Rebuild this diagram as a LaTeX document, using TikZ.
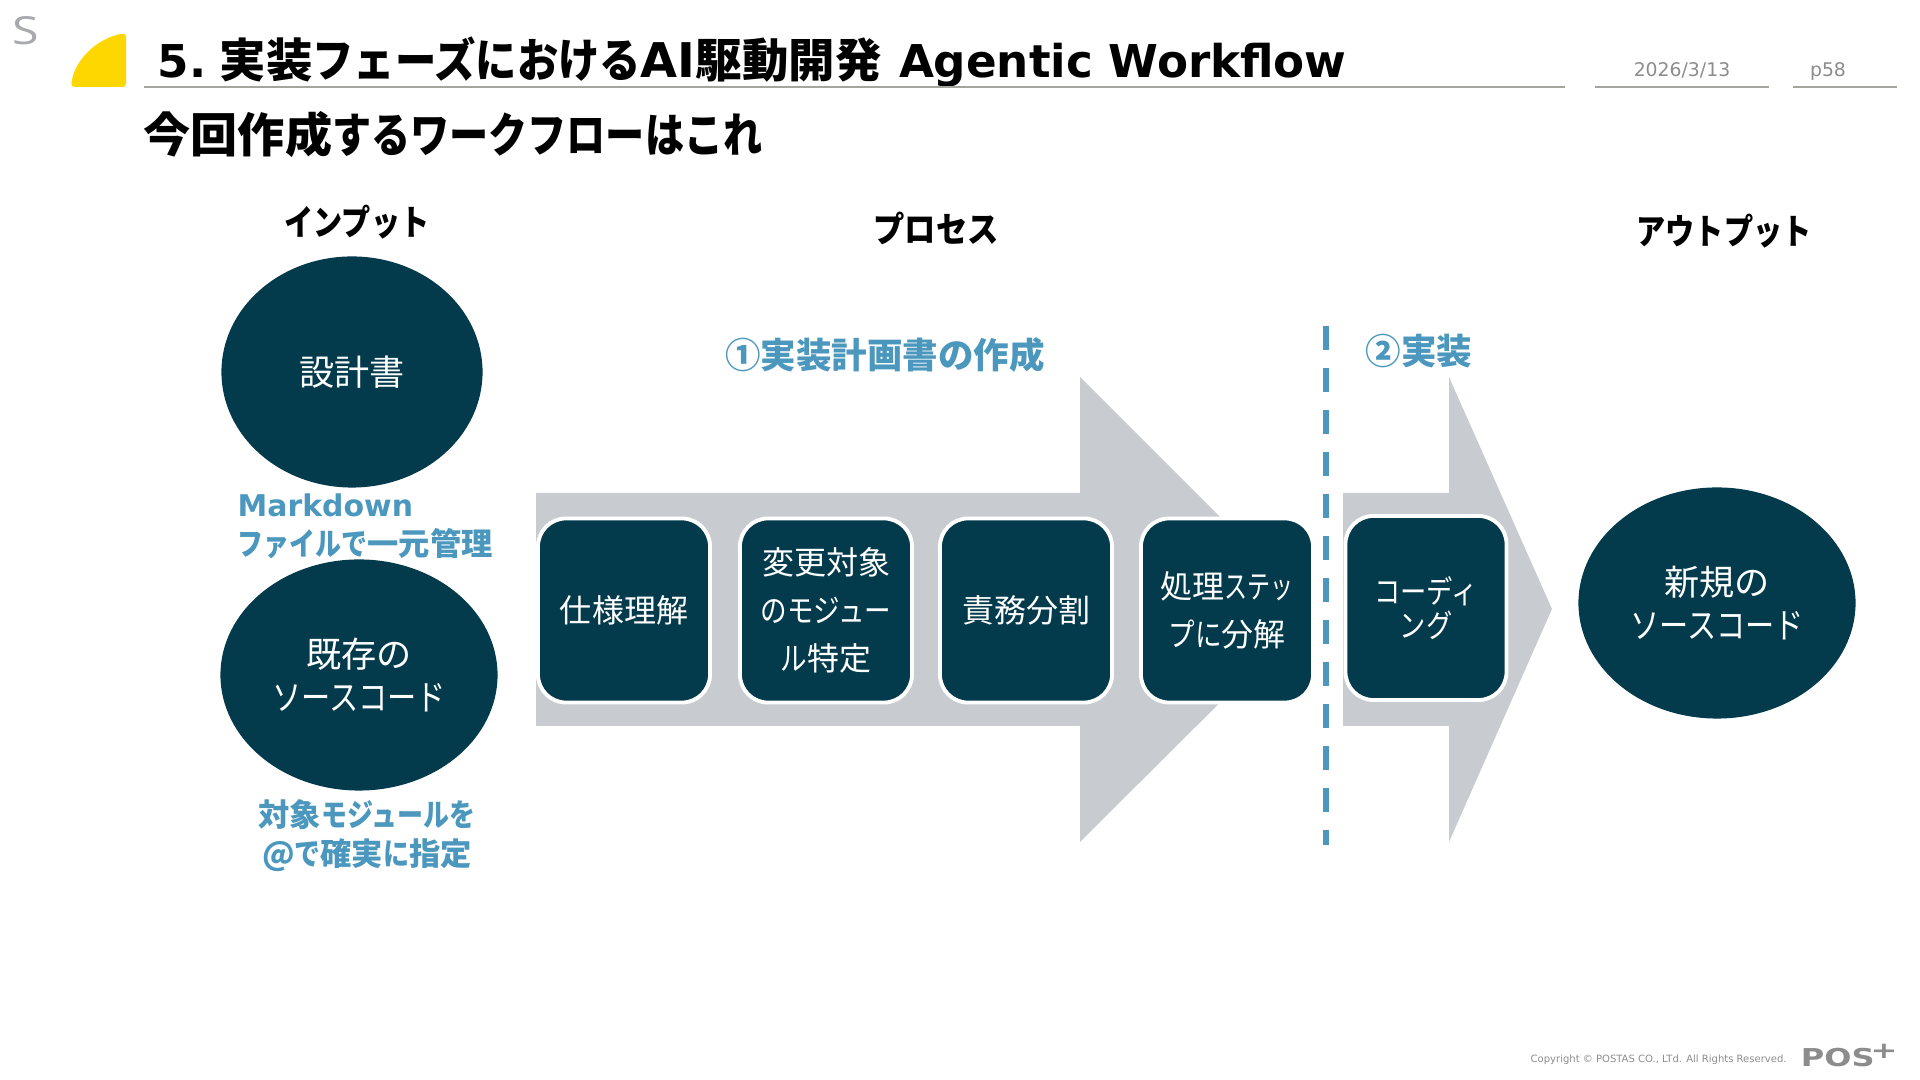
\documentclass[tikz,border=0pt]{standalone}
\usepackage{fontspec}
\usepackage{xcolor}
\usetikzlibrary{shapes.geometric}
\setmainfont{DejaVu Sans}
\newfontfamily\jp{Noto Sans CJK JP}
\newfontfamily\kn[FakeStretch=0.83]{Noto Sans CJK JP}
\newfontfamily\knn[FakeStretch=0.72]{Noto Sans CJK JP}
\newfontfamily\knw[FakeStretch=0.89]{Noto Sans CJK JP}
\newfontfamily\lat{DejaVu Sans}
\newfontfamily\opn{Open Sans}
\definecolor{teal}{HTML}{033B4C}
\definecolor{band}{HTML}{C8CCD0}
\definecolor{accent}{HTML}{4B97BD}
\definecolor{rulegray}{HTML}{A5A5A0}
\definecolor{softgray}{HTML}{8C8C8C}
\definecolor{markgray}{HTML}{A7A9AC}
\definecolor{sungold}{HTML}{FFD700}

\begin{document}
\begin{tikzpicture}[x=0.01cm,y=-0.01cm,
  oval/.style={ellipse, fill=teal, text=white, minimum width=2.77cm, minimum height=2.31cm, inner sep=0pt, align=center, font=\jp\fontsize{10}{12.2}\selectfont},
  stepbox/.style={draw=white, line width=1.1pt, fill=teal, text=white, rounded corners=8pt, minimum width=1.72cm, minimum height=1.84cm, inner sep=0pt, align=center, font=\jp\fontsize{9.1}{13.6}\selectfont},
  head/.style={font=\kn\bfseries\fontsize{10}{12}\selectfont, inner sep=0pt},
  note/.style={text=accent, inner sep=0pt, align=left, font=\jp\bfseries\fontsize{8.9}{11}\selectfont},
  phase/.style={text=accent, inner sep=0pt, font=\jp\bfseries\fontsize{10.1}{12}\selectfont},
  hline/.style={draw=rulegray, line width=0.45pt}
]
\useasboundingbox (0,0) rectangle (1920,1080);

% Arrows behind the boxes
\fill[band] (536,493) -- (1080,493) -- (1080,377) -- (1313,610) -- (1080,842) -- (1080,726) -- (536,726) -- cycle;
\fill[band] (1343,493) -- (1449,493) -- (1449,377) -- (1552,609) -- (1449,842) -- (1449,726) -- (1343,726) -- cycle;

% Header
\node[text=markgray, inner sep=0pt, xscale=1.25, font=\opn\fontsize{11}{12}\selectfont] (mark) at (26,31) {S};
\fill[sungold, rounded corners=1pt] (71,87) .. controls (74,60) and (97,38) .. (126,33) -- (126,87) -- cycle;
\node[anchor=west, inner sep=0pt, font=\jp\bfseries\fontsize{13.2}{15}\selectfont] (title) at (157,62)
  {{\lat\fontsize{12.85}{15}\selectfont 5.}\hspace{3.8pt}実装{\knw フェーズにおける}{\lat\fontsize{13.6}{15}\selectfont AI}駆動開発\hspace{5pt}{\lat\fontsize{12.85}{15}\selectfont Agentic Workflow}};
\node[anchor=west, inner sep=0pt, font=\jp\bfseries\fontsize{13.4}{15}\selectfont] (subtitle) at (143,135) {今回作成{\kn するワークフローはこれ}};
\draw[hline] (144,87) -- (1565,87);
\draw[hline] (1595,87) -- (1769,87);
\draw[hline] (1793,87) -- (1897,87);
\node[text=softgray, inner sep=0pt, font=\lat\fontsize{5.35}{7}\selectfont] (date) at (1682,70) {2026/3/13};
\node[text=softgray, inner sep=0pt, font=\lat\fontsize{5.35}{7}\selectfont] (page) at (1828,71) {p58};

% Column heads
\node[head] (input) at (357,222) {インプット};
\node[head, font=\knw\bfseries\fontsize{10}{12}\selectfont] (process) at (936,228) {プロセス};
\node[head] (output) at (1724,231) {アウトプット};

% Inputs
\node[oval, minimum width=2.61cm] (spec) at (352,372) {設計書};
\node[oval] (legacy) at (359,675) {既存の\\{\kn ソースコード}};
\node[note, anchor=west] (mdnote) at (237,526.5) {{\lat\bfseries\fontsize{8.5}{11}\selectfont Markdown}\\{\kn ファイルで}一元管理};
\node[note, align=center] (atnote) at (367,835.5) {対象{\kn モジュールを}\\@{\kn で}確実{\kn に}指定};

% Phases
\node[phase] (planlabel) at (885,355) {①実装計画書の作成};
\node[phase] (codelabel) at (1419,351) {②実装};
\draw[accent, line width=1.7pt, dash pattern=on 0.24cm off 0.18cm] (1326,326) -- (1326,845);

% Steps
\node[stepbox] (understand) at (624,610.5) {仕様理解};
\node[stepbox] (locate) at (826,610.5) {変更対象\\{\kn のモジュー}\\{\kn ル}特定};
\node[stepbox] (divide) at (1026,610.5) {責務分割};
\node[stepbox] (split) at (1227,610.5) {処理{\knn ステッ}\\{\kn プに}分解};
\node[stepbox, minimum width=1.61cm, font=\kn\fontsize{9}{9.6}\selectfont] (coding) at (1426,608) {コーディ\\ング};

% Output
\node[oval] (newcode) at (1717,603) {新規の\\{\kn ソースコード}};

% Footer
\node[text=softgray, anchor=west, inner sep=0pt, font=\lat\fontsize{2.85}{4}\selectfont] (copyright) at (1530,1060) {Copyright © POSTAS CO., LTd. All Rights Reserved.};
\node[text=softgray, anchor=west, inner sep=0pt, xscale=1.3, font=\lat\bfseries\fontsize{7}{8}\selectfont] (logo) at (1800,1058) {POS};
\node[text=softgray, inner sep=0pt, xscale=1.4, font=\lat\bfseries\fontsize{6.5}{7}\selectfont] (plus) at (1884,1051) {+};
\end{tikzpicture}
\end{document}
